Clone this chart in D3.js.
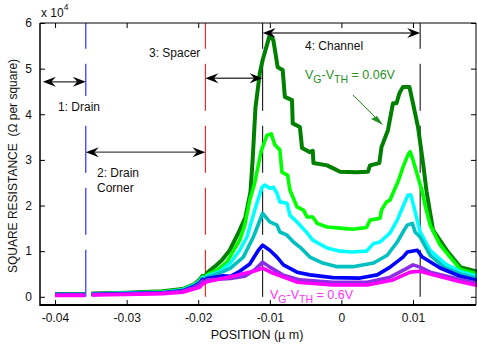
<!DOCTYPE html>
<html>
<head>
<meta charset="utf-8">
<script src="https://cdn.jsdelivr.net/npm/d3@7"></script>
<style>
  body { margin: 0; background: #fff; }
  svg { font-family: "Liberation Sans", Arial, Helvetica, sans-serif; }
  text { white-space: pre; }
</style>
</head>
<body>
<svg id="chart" width="477" height="345"></svg>
<script>
// region boundaries (um) and labels
const regionLines = [
  { x: -0.0357, color: "#0000ff" },
  { x: -0.0190, color: "#ff0000" },
  { x: -0.0110, color: "#000000" },
  { x: 0.0110, color: "#000000" }
];
const regionArrows = [
  { x0: -0.0417, x1: -0.0357, y: 4.71 },
  { x0: -0.0357, x1: -0.0190, y: 3.17 },
  { x0: -0.0190, x1: -0.0110, y: 4.79 },
  { x0: -0.0110, x1: 0.0110, y: 5.78 }
];
const xTicks = [-0.04, -0.03, -0.02, -0.01, 0, 0.01];
const yTicks = [0, 1, 2, 3, 4, 5, 6];

// square resistance, x10^4 ohm per square; null = gap in the profile
const resDarkGreen = [[-0.0400,0.06],[-0.0358,0.06],null,[-0.0349,0.07],[-0.0300,0.09],[-0.0250,0.12],[-0.0222,0.17],[-0.0205,0.28],[-0.0198,0.38],[-0.0194,0.46],[-0.0191,0.42],[-0.0188,0.52],[-0.0177,0.66],[-0.0167,0.80],[-0.0156,1.02],[-0.0142,1.46],[-0.0134,1.75],[-0.0127,2.3],[-0.0124,3.0],[-0.0120,4.15],[-0.0114,4.9],[-0.0110,5.19],[-0.0104,5.52],[-0.0100,5.74],[-0.0095,5.62],[-0.0089,5.03],[-0.0082,4.97],[-0.0079,4.38],[-0.0069,4.31],[-0.0068,3.8],[-0.0058,3.72],[-0.0055,3.26],[-0.0044,3.17],[-0.0040,3.2],[-0.0039,2.93],[-0.0020,2.88],[-0.0012,2.82],[-0.0002,2.74],[0.0021,2.73],[0.0037,2.74],[0.0040,2.88],[0.0053,2.93],[0.0056,3.28],[0.0065,3.65],[0.0072,4.24],[0.0077,4.24],[0.0081,4.46],[0.0086,4.6],[0.0095,4.6],[0.0100,4.24],[0.0107,3.72],[0.0114,2.93],[0.0119,2.3],[0.0128,1.46],[0.0147,1.02],[0.0166,0.65],[0.0190,0.55]];
const resLime = [[-0.0400,0.05],[-0.0358,0.05],null,[-0.0349,0.06],[-0.0300,0.08],[-0.0250,0.11],[-0.0222,0.16],[-0.0205,0.27],[-0.0198,0.36],[-0.0194,0.44],[-0.0191,0.40],[-0.0188,0.48],[-0.0173,0.59],[-0.0160,0.76],[-0.0142,1.24],[-0.0135,1.57],[-0.0128,2.12],[-0.0121,2.5],[-0.0112,3.2],[-0.0104,3.54],[-0.0098,3.57],[-0.0093,3.33],[-0.0086,3.22],[-0.0083,2.73],[-0.0075,2.66],[-0.0072,2.34],[-0.0066,2.12],[-0.0062,1.97],[-0.0053,1.9],[-0.0048,1.75],[-0.0040,1.75],[-0.0034,1.61],[-0.0020,1.53],[0.0002,1.5],[0.0016,1.48],[0.0035,1.52],[0.0040,1.68],[0.0054,1.72],[0.0056,1.9],[0.0063,2.08],[0.0068,2.12],[0.0075,2.38],[0.0080,2.56],[0.0086,2.84],[0.0093,3.11],[0.0096,3.18],[0.0100,3.0],[0.0107,2.62],[0.0113,2.3],[0.0117,2.0],[0.0124,1.57],[0.0138,1.13],[0.0166,0.6],[0.0190,0.5]];
const resCyan = [[-0.0400,0.05],[-0.0358,0.05],null,[-0.0349,0.06],[-0.0300,0.08],[-0.0250,0.10],[-0.0222,0.15],[-0.0205,0.26],[-0.0198,0.34],[-0.0194,0.42],[-0.0191,0.38],[-0.0188,0.45],[-0.0170,0.55],[-0.0155,0.74],[-0.0142,1.02],[-0.0132,1.31],[-0.0121,1.9],[-0.0111,2.4],[-0.0107,2.45],[-0.0100,2.38],[-0.0095,2.4],[-0.0090,2.27],[-0.0086,2.08],[-0.0076,2.05],[-0.0072,1.79],[-0.0062,1.64],[-0.0048,1.4],[-0.0040,1.24],[-0.0020,1.07],[-0.0002,1.0],[0.0015,0.98],[0.0035,1.0],[0.0045,1.17],[0.0054,1.2],[0.0068,1.4],[0.0078,1.68],[0.0085,1.94],[0.0093,2.23],[0.0097,2.23],[0.0100,2.05],[0.0107,1.61],[0.0110,1.42],[0.0124,1.02],[0.0145,0.72],[0.0166,0.55],[0.0190,0.45]];
const resTeal = [[-0.0400,0.05],[-0.0358,0.05],null,[-0.0349,0.06],[-0.0300,0.07],[-0.0250,0.09],[-0.0222,0.14],[-0.0205,0.25],[-0.0198,0.33],[-0.0194,0.40],[-0.0191,0.37],[-0.0188,0.43],[-0.0170,0.52],[-0.0155,0.63],[-0.0137,0.87],[-0.0123,1.31],[-0.0110,1.83],[-0.0100,1.64],[-0.0090,1.57],[-0.0086,1.42],[-0.0076,1.35],[-0.0067,1.2],[-0.0058,1.09],[-0.0044,0.87],[-0.0026,0.74],[-0.0006,0.66],[0.0016,0.66],[0.0045,0.74],[0.0064,0.91],[0.0078,1.2],[0.0086,1.42],[0.0092,1.57],[0.0099,1.61],[0.0103,1.42],[0.0110,1.31],[0.0124,0.91],[0.0145,0.63],[0.0166,0.5],[0.0190,0.4]];
const resBlue = [[-0.0400,0.05],[-0.0358,0.05],null,[-0.0349,0.05],[-0.0300,0.07],[-0.0250,0.09],[-0.0222,0.13],[-0.0205,0.23],[-0.0198,0.30],[-0.0194,0.38],[-0.0191,0.34],[-0.0188,0.40],[-0.0165,0.46],[-0.0155,0.45],[-0.0142,0.56],[-0.0128,0.72],[-0.0116,1.02],[-0.0110,1.13],[-0.0100,1.02],[-0.0090,0.87],[-0.0081,0.70],[-0.0062,0.54],[-0.0044,0.48],[-0.0012,0.42],[0.0026,0.41],[0.0050,0.48],[0.0068,0.65],[0.0086,0.87],[0.0092,0.98],[0.0106,1.02],[0.0113,0.87],[0.0138,0.63],[0.0166,0.45],[0.0190,0.36]];
const resPurple = [[-0.0400,0.04],[-0.0358,0.04],null,[-0.0349,0.05],[-0.0300,0.06],[-0.0250,0.08],[-0.0222,0.12],[-0.0205,0.21],[-0.0198,0.28],[-0.0194,0.35],[-0.0191,0.32],[-0.0188,0.37],[-0.0155,0.40],[-0.0135,0.45],[-0.0121,0.59],[-0.0110,0.76],[-0.0100,0.65],[-0.0082,0.48],[-0.0058,0.37],[-0.0012,0.32],[0.0036,0.32],[0.0068,0.43],[0.0092,0.63],[0.0100,0.70],[0.0110,0.65],[0.0124,0.54],[0.0166,0.38],[0.0190,0.30]];
const resMagenta = [[-0.0400,0.03],[-0.0358,0.03],null,[-0.0349,0.04],[-0.0300,0.05],[-0.0250,0.07],[-0.0222,0.10],[-0.0198,0.21],[-0.0194,0.28],[-0.0191,0.30],[-0.0188,0.33],[-0.0152,0.45],[-0.0120,0.57],[-0.0110,0.63],[-0.0096,0.52],[-0.0062,0.32],[-0.0012,0.26],[0.0036,0.26],[0.0072,0.37],[0.0096,0.54],[0.0110,0.56],[0.0124,0.50],[0.0166,0.33],[0.0190,0.25]];
const resRed = [[-0.0349,0.05],[-0.0300,0.07],[-0.0250,0.09],[-0.0222,0.14],[-0.0205,0.25],[-0.0198,0.33],[-0.0194,0.46],[-0.0191,0.40],[-0.0188,0.42]];

const series = [
  { data: resRed, color: "#ff0000", w: 2 },
  { data: resDarkGreen, color: "#008000", w: 4 },
  { data: resLime, color: "#00ff00", w: 3.6 },
  { data: resCyan, color: "#00ffff", w: 3.6 },
  { data: resTeal, color: "#00bfbf", w: 3.6 },
  { data: resBlue, color: "#0000ff", w: 3.6 },
  { data: resPurple, color: "#8c2ee6", w: 3.6 },
  { data: resMagenta, color: "#ff00ff", w: 3.6 }
];

const svg = d3.select("#chart");
const padLeft = 40, padRight = 476, padTop = 23, padBottom = 305;

const x = d3.scaleLinear().domain([-0.0421, 0.0188]).range([padLeft, padRight]);
const y = d3.scaleLinear().domain([-0.18, 6]).range([padBottom, padTop]);

// dashed region boundaries
regionLines.forEach(r => {
  svg.append("line")
    .attr("x1", x(r.x)).attr("x2", x(r.x))
    .attr("y1", y(0)).attr("y2", y(6))
    .attr("stroke", r.color).attr("stroke-width", 1)
    .attr("stroke-dasharray", "47,15");
});

// curves
const line = d3.line()
  .defined(d => d !== null)
  .x(d => x(d[0]))
  .y(d => y(d[1]));

series.forEach(s => {
  svg.append("path")
    .datum(s.data)
    .attr("fill", "none")
    .attr("stroke", s.color)
    .attr("stroke-width", s.w)
    .attr("stroke-linejoin", "round")
    .attr("d", line);
});

// axes box
const axisX = svg.append("g").attr("transform", `translate(0,${padBottom})`)
  .call(d3.axisBottom(x).tickValues(xTicks).tickSize(-5).tickPadding(8)
    .tickFormat(d => d === 0 ? "0" : d.toFixed(2)));
const axisXTop = svg.append("g").attr("transform", `translate(0,${padTop})`)
  .call(d3.axisTop(x).tickValues(xTicks).tickSize(-5).tickFormat(""));
const axisY = svg.append("g").attr("transform", `translate(${padLeft},0)`)
  .call(d3.axisLeft(y).tickValues(yTicks).tickSize(-5).tickPadding(8).tickFormat(d => String(d)));
const axisYRight = svg.append("g").attr("transform", `translate(${padRight},0)`)
  .call(d3.axisRight(y).tickValues(yTicks).tickSize(-5).tickFormat(""));

[axisX, axisXTop, axisY, axisYRight].forEach(g => {
  g.select(".domain").remove();
  g.selectAll("line").attr("stroke", "#000");
  g.selectAll("text").attr("font-size", 12).attr("fill", "#111")
    .attr("font-family", "'Liberation Sans', Arial, sans-serif");
});

svg.append("line").attr("x1", padLeft).attr("x2", padRight).attr("y1", padTop).attr("y2", padTop)
  .attr("stroke", "#000").attr("stroke-width", 1);
svg.append("line").attr("x1", padLeft).attr("x2", padLeft).attr("y1", padTop).attr("y2", padBottom + 1)
  .attr("stroke", "#000").attr("stroke-width", 1.5);
svg.append("line").attr("x1", padLeft).attr("x2", padRight).attr("y1", padBottom).attr("y2", padBottom)
  .attr("stroke", "#000").attr("stroke-width", 2);
svg.append("line").attr("x1", padRight).attr("x2", padRight).attr("y1", padTop).attr("y2", padBottom)
  .attr("stroke", "#000").attr("stroke-width", 1);

// exponent
const expo = svg.append("text").attr("x", padLeft + 1).attr("y", 17).attr("font-size", 12).attr("fill", "#111");
expo.append("tspan").text("x 10");
expo.append("tspan").attr("dy", -7).attr("font-size", 8.5).text("4");

// axis titles
svg.append("text")
  .attr("transform", `translate(17,${(padTop + padBottom) / 2 + 2}) rotate(-90)`)
  .attr("text-anchor", "middle").attr("font-size", 12).attr("fill", "#111")
  .text("SQUARE RESISTANCE  (\u03A9 per square)");
svg.append("text")
  .attr("x", 257).attr("y", 339)
  .attr("text-anchor", "middle").attr("font-size", 12.5).attr("fill", "#111")
  .text("POSITION (\u00B5 m)");

// double-headed arrows
function arrowHead(px, py, dir) {
  const L = 13, H = 5, N = 4.5;
  return `M${px},${py} L${px - dir * L},${py - H} L${px - dir * (L - N)},${py} L${px - dir * L},${py + H} Z`;
}
regionArrows.forEach(a => {
  const x0 = x(a.x0), x1 = x(a.x1), yy = y(a.y);
  svg.append("line").attr("x1", x0 + 6).attr("x2", x1 - 6).attr("y1", yy).attr("y2", yy)
    .attr("stroke", "#444").attr("stroke-width", 1.4);
  svg.append("path").attr("d", arrowHead(x0, yy, -1)).attr("fill", "#000");
  svg.append("path").attr("d", arrowHead(x1, yy, 1)).attr("fill", "#000");
});

// region labels
const lbl1 = svg.append("g");
lbl1.append("rect").attr("x", 56).attr("y", 96).attr("width", 50).attr("height", 26).attr("fill", "#fff");
lbl1.append("text").attr("x", 58).attr("y", 111).attr("font-size", 12).attr("fill", "#111").text("1: Drain");

svg.append("text").attr("x", 97).attr("y", 177).attr("font-size", 12).attr("fill", "#111").text("2: Drain");
svg.append("text").attr("x", 97).attr("y", 192).attr("font-size", 12).attr("fill", "#111").text("Corner");
svg.append("text").attr("x", 149).attr("y", 57).attr("font-size", 12).attr("fill", "#111").text("3: Spacer");
svg.append("text").attr("x", 305).attr("y", 50).attr("font-size", 12).attr("fill", "#111").text("4: Channel");

// gate voltage labels
function vLabel(xp, yp, color, value) {
  const t = svg.append("text").attr("x", xp).attr("y", yp).attr("font-size", 12.5).attr("fill", color);
  t.append("tspan").text("V");
  t.append("tspan").attr("dy", 4).attr("font-size", 10.5).text("G");
  t.append("tspan").attr("dy", -4).text("-V");
  t.append("tspan").attr("dy", 4).attr("font-size", 10.5).text("TH");
  t.append("tspan").attr("dy", -4).text(" = " + value);
}
vLabel(305, 79, "#1f921f", "0.06V");
vLabel(270, 299, "#ff33ff", "0.6V");

// pointer from label to top curve
svg.append("line").attr("x1", 353).attr("y1", 95).attr("x2", 380).attr("y2", 122)
  .attr("stroke", "#1f921f").attr("stroke-width", 1);
svg.append("path")
  .attr("d", "M383,125 L371,119 L377,116 Z")
  .attr("fill", "#1f921f");
</script>
</body>
</html>
